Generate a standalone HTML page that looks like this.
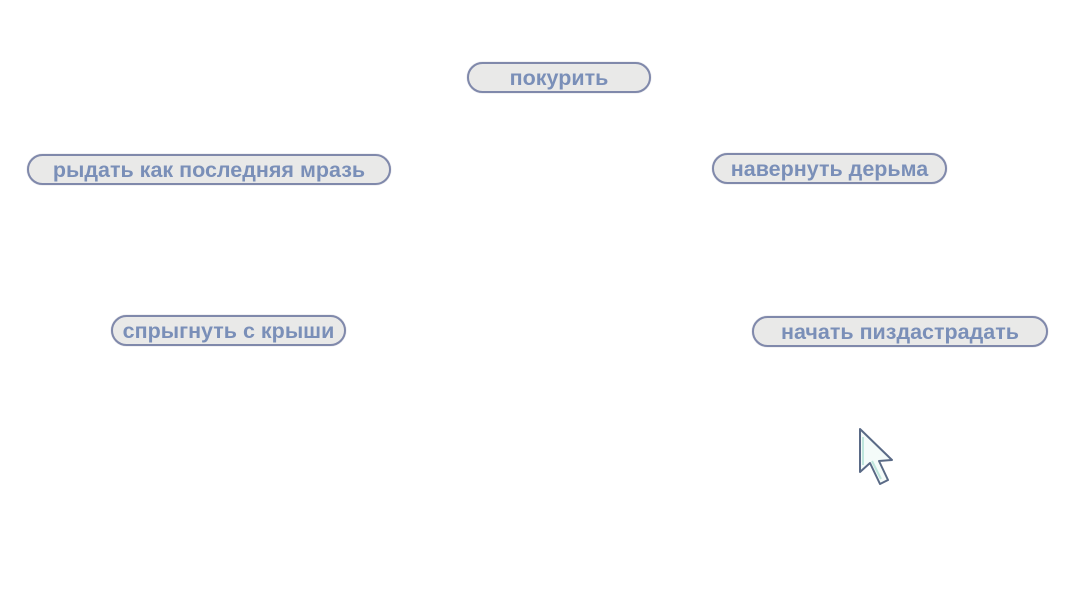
<!DOCTYPE html>
<html><head><meta charset="utf-8"><style>
body{margin:0;width:1069px;height:592px;background:#fff;position:relative;overflow:hidden;font-family:"Liberation Sans","DejaVu Sans",sans-serif}
.p{position:absolute;box-sizing:border-box;height:31px;border:2px solid #8089ab;border-radius:16px;background:#e9e9e8;color:#7a8fb8;font-weight:bold;font-size:21.5px;line-height:28px;text-align:center;white-space:nowrap;box-shadow:0 0 1px #aab}
</style></head><body>
<div class="p" style="left:467px;top:62px;width:184px">покурить</div>
<div class="p" style="left:27px;top:154px;width:364px">рыдать как последняя мразь</div>
<div class="p" style="left:712px;top:153px;width:235px">навернуть дерьма</div>
<div class="p" style="left:111px;top:315px;width:235px">спрыгнуть с крыши</div>
<div class="p" style="left:752px;top:316px;width:296px">начать пиздастрадать</div>
<svg style="position:absolute;left:855px;top:425px" width="45" height="65">
<path d="M5 4 L5 47 L15 38 L25 59 L33 55 L24 36 L37 35 Z" fill="#f4fbf9" stroke="#5a6a86" stroke-width="2" stroke-linejoin="round"/>
<path d="M8 12 L8 40 M17 36 L26 54" stroke="#bfe6dc" stroke-width="2" fill="none"/>
</svg>
</body></html>
